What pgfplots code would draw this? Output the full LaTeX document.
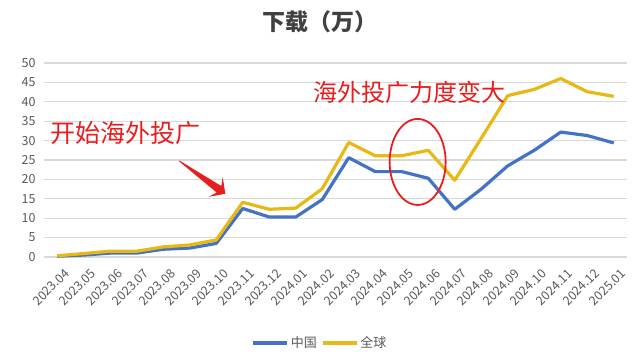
\documentclass[border=0pt]{standalone}
\usepackage{fontspec}
\setmainfont{Noto Sans CJK SC}
\usepackage{pgfplots}
\pgfplotsset{compat=1.18}
\usetikzlibrary{arrows.meta}
\definecolor{cnblue}{RGB}{68,114,196}
\definecolor{glgold}{RGB}{232,184,20}
\definecolor{txtgray}{RGB}{89,89,89}
\definecolor{titlegray}{RGB}{64,64,64}
\definecolor{gridgray}{RGB}{217,217,217}
\definecolor{annred}{RGB}{230,30,30}
\begin{document}
\begin{tikzpicture}
\begin{axis}[
  scale only axis,
  width=583pt, height=194pt,
  xmin=-0.5, xmax=21.5, ymin=0, ymax=50,
  xtick={0,...,21},
  xticklabels={2023.04,2023.05,2023.06,2023.07,2023.08,2023.09,2023.10,2023.11,2023.12,2024.01,2024.02,2024.03,2024.04,2024.05,2024.06,2024.07,2024.08,2024.09,2024.10,2024.11,2024.12,2025.01},
  ytick={0,5,...,50},
  ymajorgrids,
  grid style={gridgray, line width=1.3pt},
  axis line style={draw=none},
  major tick length=0pt,
  tick label style={font=\fontsize{12.5}{14}\selectfont, text=txtgray},
  /pgf/number format/assume math mode=true,
  x tick label style={rotate=45, anchor=north east, inner sep=0pt, yshift=-12pt, xshift=-3pt},
  y tick label style={xshift=-5pt},
  clip=false,
  legend style={at={(0.473,-0.443)}, anchor=center, draw=none, legend columns=2,
    font=\fontsize{13}{15}\selectfont, text=txtgray,
    /tikz/every even column/.append style={column sep=2pt}},
  legend image code/.code={\draw[#1, line width=3.5pt] (0pt,0pt) -- (34pt,0pt);},
  title={下载（万）},
  title style={font=\fontsize{23}{26}\selectfont\bfseries, text=titlegray, at={(0.473,1)}, anchor=center, yshift=35pt},
]
\addplot[cnblue, line width=3.2pt, line join=round] coordinates {
(0,0.2)(1,0.5)(2,1.0)(3,1.0)(4,2.0)(5,2.3)(6,3.5)(7,12.5)(8,10.3)(9,10.3)(10,14.8)
(11,25.6)(12,22.0)(13,22.0)(14,20.3)(15,12.3)(16,17.5)(17,23.5)(18,27.5)(19,32.2)(20,31.3)(21,29.4)};
\addlegendentry{中国}
\addplot[glgold, line width=3.2pt, line join=round] coordinates {
(0,0.3)(1,0.9)(2,1.5)(3,1.5)(4,2.6)(5,3.1)(6,4.4)(7,14.1)(8,12.3)(9,12.6)(10,17.6)
(11,29.5)(12,26.1)(13,26.1)(14,27.5)(15,19.8)(16,30.6)(17,41.6)(18,43.2)(19,46.0)(20,42.6)(21,41.4)};
\addlegendentry{全球}
\node[anchor=west, text=annred, font=\fontsize{25}{28}\selectfont, inner sep=0pt] at (axis cs:-0.28,32) {开始海外投广};
\node[anchor=west, text=annred, font=\fontsize{24}{27}\selectfont, inner sep=0pt] at (axis cs:9.66,42.5) {海外投广力度变大};
\draw[annred, line width=1.8pt] (axis cs:13.6,24.5) ellipse [x radius=28pt, y radius=43pt];
\begin{scope}[shift={(axis cs:6.75,14.3)}, rotate=144.5]
\fill[annred] (0,0) -- (25pt,12pt) -- (21pt,4pt) -- (70pt,0.4pt) -- (70pt,-0.4pt) -- (21pt,-4pt) -- (25pt,-12pt) -- cycle;
\end{scope}
\coordinate (ll) at (rel axis cs:0,0);
\end{axis}
\path (ll) ++(-44pt,-106pt) coordinate (bl);
\path (ll) ++(599pt,257pt) coordinate (tr);
\path (bl) rectangle (tr);
\end{tikzpicture}
\end{document}
